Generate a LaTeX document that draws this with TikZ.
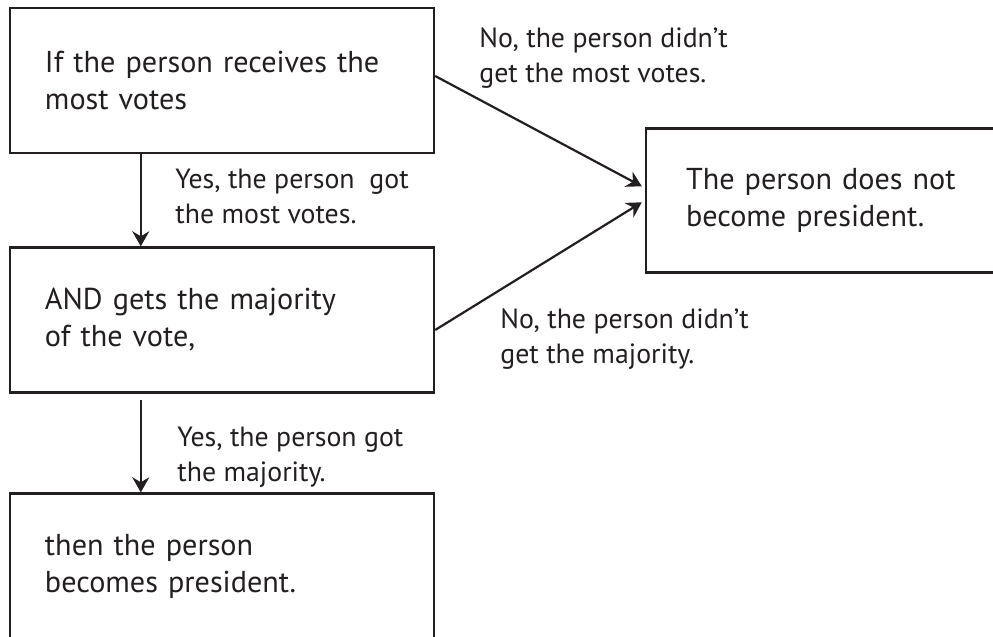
\documentclass[tikz,border=0pt]{standalone}
\usepackage{fontspec}
\setmainfont{PT Sans}
\usetikzlibrary{arrows.meta}
\definecolor{inkgray}{HTML}{231F20}
\tikzset{x=0.5pt,y=-0.5pt,
    every node/.style={text=inkgray},
    stepbox/.style={draw=inkgray, line width=1.2pt, rectangle,
        minimum width=212pt, minimum height=72.5pt,
        inner xsep=17.5pt, text width=177pt, align=left,
        font=\fontsize{15.1}{18.5}\selectfont},
    answer/.style={anchor=base west, inner sep=0pt, align=left,
        font=\fontsize{13.9}{17.5}\selectfont},
    flow/.style={draw=inkgray, line width=1.1pt,
        -{Stealth[length=7.5pt,width=8.5pt,inset=2.5pt]}},
    }
\begin{document}
\begin{tikzpicture}
\useasboundingbox (0,0) rectangle (993,637);
% the three steps on the left
\node[stepbox] (votes) at (222,80.5) {If the person receives the\\most votes};
\node[stepbox] (majority) at (222,320) {AND gets the majority\\of the vote,};
\node[stepbox] (wins) at (222,566) {then the person\\becomes president.};
% the outcome on the right
\node[stepbox, minimum width=182pt, text width=142pt, inner xsep=20pt,
    minimum height=72pt] (loses) at (828,200.3) {The person does not\\become president.};
% yes branches
\draw[flow] ([xshift=66pt]votes.south west) -- ([xshift=66pt]majority.north west);
\draw[flow] ([xshift=66pt,yshift=-3pt]majority.south west) -- ([xshift=66pt]wins.north west);
% no branches
\draw[flow] ([yshift=2.25pt]votes.east) -- ([xshift=-1.5pt,yshift=7pt]loses.west);
\draw[flow] ([yshift=-5pt]majority.east) -- ([xshift=-1.5pt,yshift=-1pt]loses.west);
% answers (base = last line)
\node[answer] (yesvotes) at (175,223) {Yes, the person\ \ got\\the most votes.};
\node[answer] (yesmajority) at (177,481) {Yes, the person got\\the majority.};
\node[answer] (novotes) at (479,83) {No, the person didn't\\get the most votes.};
\node[answer] (nomajority) at (500,363) {No, the person didn't\\get the majority.};
\end{tikzpicture}
\end{document}
